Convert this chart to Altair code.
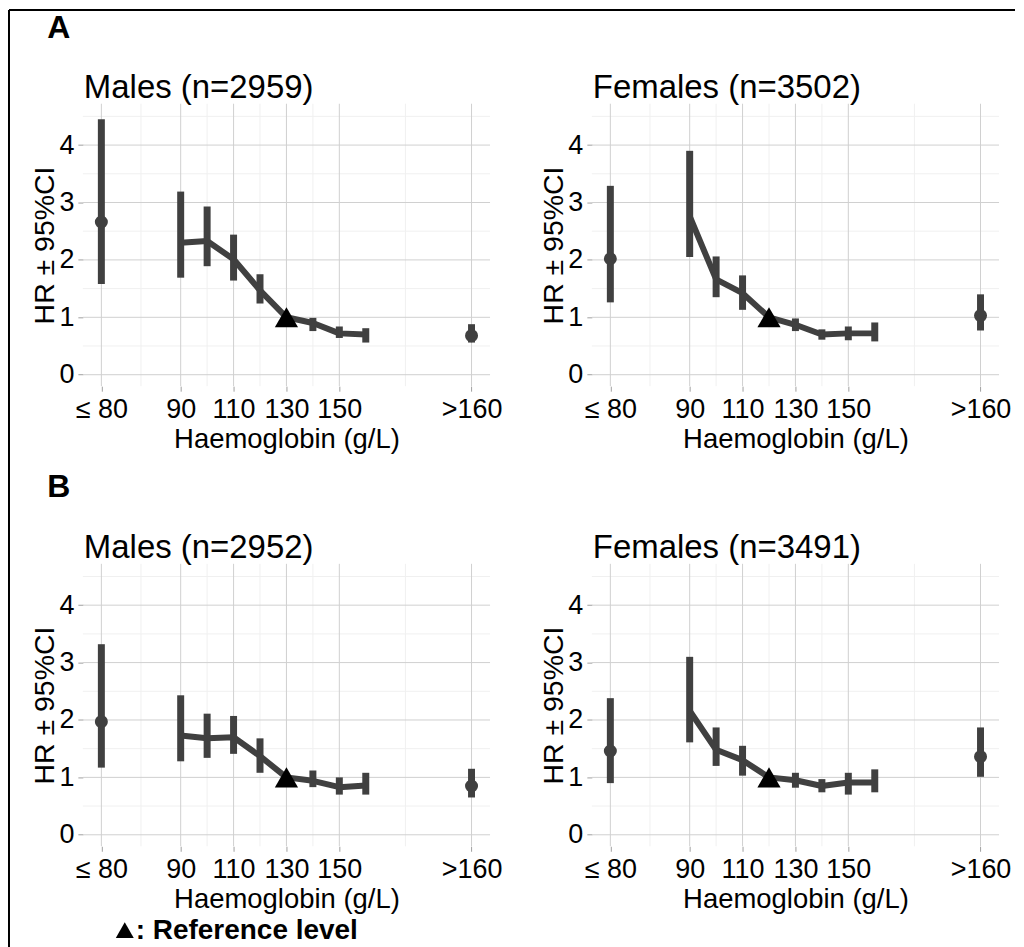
import altair as alt
import pandas as pd

# Haemoglobin plotting positions (60 = "≤ 80", 200 = ">160")
hb = [60, 90, 100, 110, 120, 130, 140, 150, 160, 200]
tick_vals = [60, 90, 110, 130, 150, 200]
tick_labels = ["≤ 80", "90", "110", "130", "150", ">160"]
minor_x = [75, 100, 120, 140, 175]
y_ticks = [0, 1, 2, 3, 4]
minor_y = [0.5, 1.5, 2.5, 3.5, 4.5]

# Panel A – Males (reference 130)
a_m_hr = [2.66, 2.30, 2.33, 2.01, 1.47, 1.00, 0.90, 0.72, 0.70, 0.68]
a_m_lo = [1.58, 1.69, 1.89, 1.64, 1.24, None, 0.76, 0.64, 0.56, 0.56]
a_m_hi = [4.45, 3.19, 2.93, 2.44, 1.75, None, 0.99, 0.84, 0.81, 0.88]
# Panel A – Females (reference 120)
a_f_hr = [2.02, 2.76, 1.66, 1.42, 1.00, 0.87, 0.70, 0.72, 0.72, 1.03]
a_f_lo = [1.26, 2.05, 1.35, 1.13, None, 0.76, 0.61, 0.60, 0.58, 0.77]
a_f_hi = [3.29, 3.90, 2.06, 1.73, None, 0.98, 0.79, 0.84, 0.91, 1.40]
# Panel B – Males (reference 130)
b_m_hr = [1.97, 1.73, 1.68, 1.70, 1.37, 1.00, 0.94, 0.83, 0.86, 0.85]
b_m_lo = [1.17, 1.28, 1.34, 1.41, 1.08, None, 0.83, 0.70, 0.70, 0.65]
b_m_hi = [3.32, 2.43, 2.11, 2.07, 1.68, None, 1.12, 1.00, 1.08, 1.15]
# Panel B – Females (reference 120)
b_f_hr = [1.46, 2.16, 1.48, 1.30, 1.00, 0.95, 0.85, 0.91, 0.91, 1.36]
b_f_lo = [0.90, 1.61, 1.20, 1.03, None, 0.82, 0.74, 0.70, 0.74, 1.01]
b_f_hi = [2.38, 3.10, 1.87, 1.55, None, 1.08, 0.97, 1.08, 1.14, 1.87]

panel_titles = ["Males (n=2959)", "Females (n=3502)", "Males (n=2952)", "Females (n=3491)"]

INK = "#404040"
FONT = "Liberation Sans"
W, H = 408, 283

label_expr = "''"
for v, lab in reversed(list(zip(tick_vals, tick_labels))):
    label_expr = f"datum.value == {v} ? '{lab}' : ({label_expr})"

xs = alt.Scale(domain=[53, 207], nice=False, zero=False)
ys = alt.Scale(domain=[-0.2, 4.72], nice=False, zero=False)

xax = alt.Axis(values=tick_vals, labelExpr=label_expr, title="Haemoglobin (g/L)",
               grid=False, domain=False, tickSize=5, tickColor="#a0a0a0",
               labelFontSize=27, labelPadding=5, labelOverlap=False, labelFlush=False,
               labelColor="black", titleFontSize=27.5, titleFontWeight="normal",
               titleColor="black", titleX=W / 2, titleY=61, titleBaseline="alphabetic")
yax = alt.Axis(values=y_ticks, title="HR ± 95%CI", grid=False, domain=False,
               tickSize=5, tickColor="#a0a0a0", labelFontSize=27, labelPadding=4,
               labelColor="black", titleFontSize=28.5, titleFontWeight="normal",
               titleColor="black", titleAngle=270, titleX=-29, titleY=H / 2,
               titleBaseline="alphabetic", titleAlign="center")


def X(field):
    return alt.X(field, type="quantitative", scale=xs, axis=xax)


def Y(field):
    return alt.Y(field, type="quantitative", scale=ys, axis=yax)


def text_layer(txt, size, weight, x, y, align="left"):
    return alt.Chart(pd.DataFrame({"t": [txt]})).mark_text(
        fontSize=size, fontWeight=weight, color="black", align=align,
        baseline="alphabetic").encode(x=alt.value(x), y=alt.value(y), text="t:N")


def panel(title, hr, lo, hi, ref, extras=()):
    df = pd.DataFrame({"hb": hb, "hr": hr, "lo": lo, "hi": hi})
    minor_v = alt.Chart(pd.DataFrame({"hb": minor_x})).mark_rule(
        color="#f0f0f0", strokeWidth=1).encode(x=X("hb"))
    minor_h = alt.Chart(pd.DataFrame({"hr": minor_y})).mark_rule(
        color="#f0f0f0", strokeWidth=1).encode(y=Y("hr"))
    major_v = alt.Chart(pd.DataFrame({"hb": tick_vals})).mark_rule(
        color="#d0d0d0", strokeWidth=1).encode(x=X("hb"))
    major_h = alt.Chart(pd.DataFrame({"hr": y_ticks})).mark_rule(
        color="#d0d0d0", strokeWidth=1).encode(y=Y("hr"))
    bars = alt.Chart(df).transform_filter("isValid(datum.lo)").mark_rule(
        color=INK, strokeWidth=7).encode(x=X("hb"), y=Y("lo"), y2="hi:Q")
    line = alt.Chart(df).transform_filter("datum.hb >= 90 && datum.hb <= 160").mark_line(
        color=INK, strokeWidth=6, strokeJoin="round").encode(x=X("hb"), y=Y("hr"))
    dots = alt.Chart(df).transform_filter("datum.hb < 90 || datum.hb > 160").mark_circle(
        color=INK, size=170, opacity=1).encode(x=X("hb"), y=Y("hr"))
    tri = alt.Chart(df).transform_filter(f"datum.hb == {ref}").mark_point(
        shape="triangle-up", filled=True, size=540, color="black", opacity=1).encode(
        x=X("hb"), y=Y("hr"))
    ttl = text_layer(title, 33, "normal", 1, -6)
    layers = [minor_v, minor_h, major_v, major_h, bars, line, dots, tri, ttl] + list(extras)
    return alt.layer(*layers).properties(width=W, height=H)


one = pd.DataFrame({"t": ["border"]})
border_left = alt.Chart(one).mark_rule(color="black", strokeWidth=2).encode(
    x=alt.value(-74), y=alt.value(-94), y2=alt.value(847))
border_top = alt.Chart(one).mark_rule(color="black", strokeWidth=2).encode(
    x=alt.value(-74), x2=alt.value(934), y=alt.value(-94))
lab_a = text_layer("A", 32, "bold", -24, -66, "center")
lab_b = text_layer("B", 32, "bold", -24, -67, "center")
legend_sym = alt.Chart(pd.DataFrame({"t": ["ref"]})).mark_point(
    shape="triangle-up", filled=True, size=324, color="black", opacity=1).encode(
    x=alt.value(42), y=alt.value(367))
legend = text_layer(": Reference level", 28, "bold", 53, 376)

p1 = panel(panel_titles[0], a_m_hr, a_m_lo, a_m_hi, 130, [border_left, border_top, lab_a])
p2 = panel(panel_titles[1], a_f_hr, a_f_lo, a_f_hi, 120)
p3 = panel(panel_titles[2], b_m_hr, b_m_lo, b_m_hi, 130, [lab_b, legend_sym, legend])
p4 = panel(panel_titles[3], b_f_hr, b_f_lo, b_f_hi, 120)

chart = alt.concat(p1, p2, p3, p4, columns=2).properties(
    bounds="flush", spacing={"row": 178, "column": 102}, padding=0
).configure_view(strokeWidth=0).configure_axis(
    labelFont=FONT, titleFont=FONT).configure_text(font=FONT)

chart.save("out.html", embed_options={"renderer": "svg", "actions": False})
